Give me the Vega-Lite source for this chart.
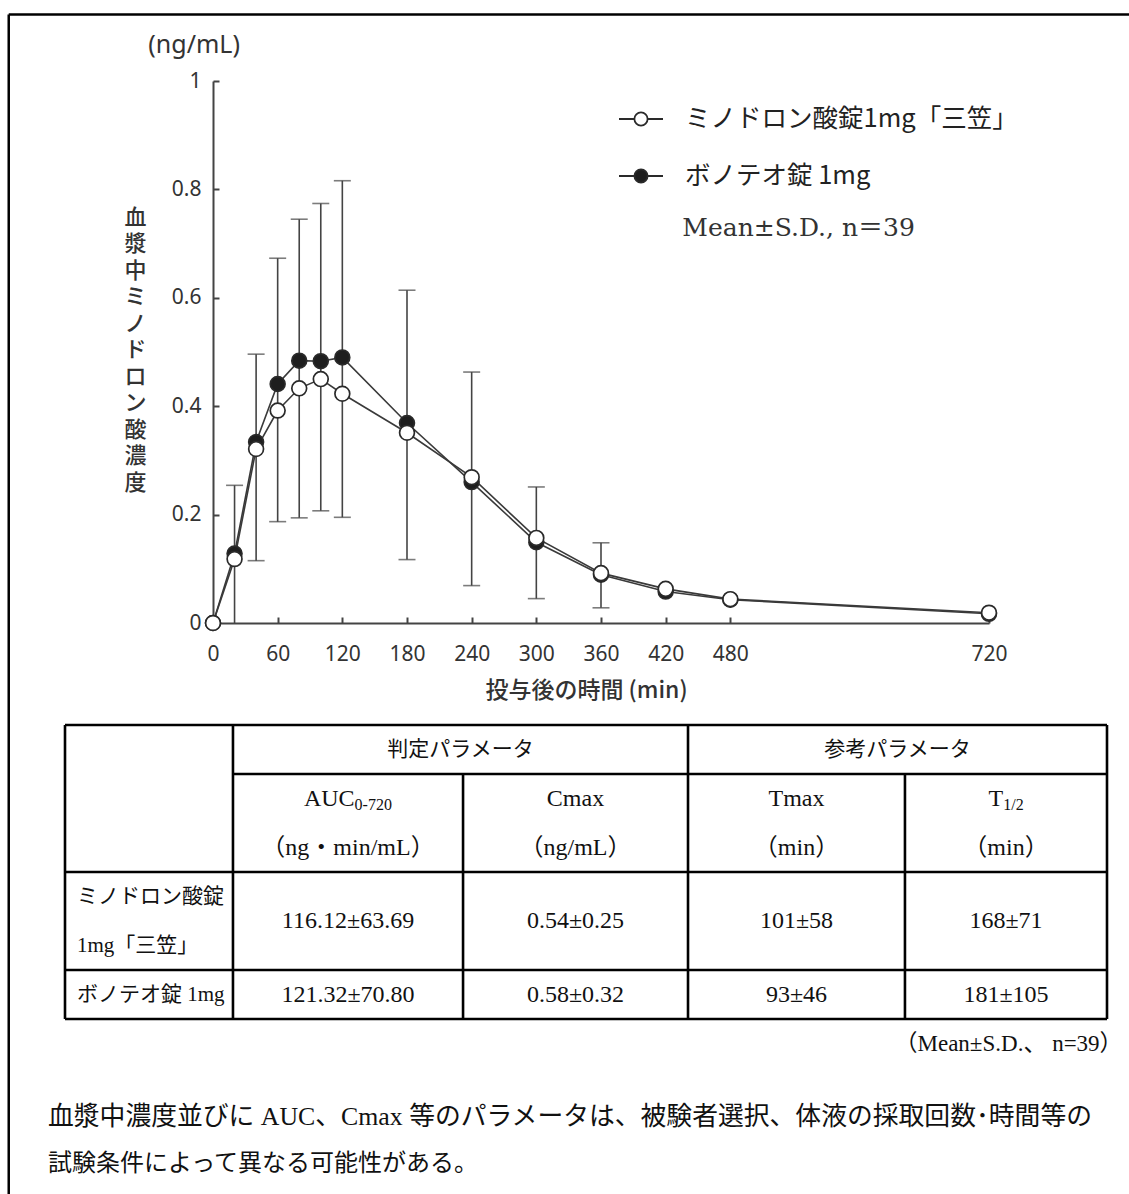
{
  "$schema": "https://vega.github.io/schema/vega-lite/v6.json",
  "width": 1129,
  "height": 1194,
  "autosize": {"type": "none"},
  "padding": 0,
  "background": "white",
  "config": {"view": {"stroke": null}},
  "datasets": {
    "curve": [
      {"time": 0, "drug": "ボノテオ錠 1mg", "conc": 0},
      {"time": 20, "drug": "ボノテオ錠 1mg", "conc": 0.128},
      {"time": 40, "drug": "ボノテオ錠 1mg", "conc": 0.334},
      {"time": 60, "drug": "ボノテオ錠 1mg", "conc": 0.441},
      {"time": 80, "drug": "ボノテオ錠 1mg", "conc": 0.484},
      {"time": 100, "drug": "ボノテオ錠 1mg", "conc": 0.483},
      {"time": 120, "drug": "ボノテオ錠 1mg", "conc": 0.49},
      {"time": 180, "drug": "ボノテオ錠 1mg", "conc": 0.369},
      {"time": 240, "drug": "ボノテオ錠 1mg", "conc": 0.26},
      {"time": 300, "drug": "ボノテオ錠 1mg", "conc": 0.149},
      {"time": 360, "drug": "ボノテオ錠 1mg", "conc": 0.089},
      {"time": 420, "drug": "ボノテオ錠 1mg", "conc": 0.058},
      {"time": 480, "drug": "ボノテオ錠 1mg", "conc": 0.043},
      {"time": 720, "drug": "ボノテオ錠 1mg", "conc": 0.017},
      {"time": 0, "drug": "ミノドロン酸錠1mg「三笠」", "conc": 0},
      {"time": 20, "drug": "ミノドロン酸錠1mg「三笠」", "conc": 0.118},
      {"time": 40, "drug": "ミノドロン酸錠1mg「三笠」", "conc": 0.321},
      {"time": 60, "drug": "ミノドロン酸錠1mg「三笠」", "conc": 0.392},
      {"time": 80, "drug": "ミノドロン酸錠1mg「三笠」", "conc": 0.433},
      {"time": 100, "drug": "ミノドロン酸錠1mg「三笠」", "conc": 0.45},
      {"time": 120, "drug": "ミノドロン酸錠1mg「三笠」", "conc": 0.423},
      {"time": 180, "drug": "ミノドロン酸錠1mg「三笠」", "conc": 0.351},
      {"time": 240, "drug": "ミノドロン酸錠1mg「三笠」", "conc": 0.269},
      {"time": 300, "drug": "ミノドロン酸錠1mg「三笠」", "conc": 0.157},
      {"time": 360, "drug": "ミノドロン酸錠1mg「三笠」", "conc": 0.092},
      {"time": 420, "drug": "ミノドロン酸錠1mg「三笠」", "conc": 0.063},
      {"time": 480, "drug": "ミノドロン酸錠1mg「三笠」", "conc": 0.044},
      {"time": 720, "drug": "ミノドロン酸錠1mg「三笠」", "conc": 0.019}
    ],
    "sd": [
      {"time": 20, "lo": 0, "hi": 0.254, "loCap": null},
      {"time": 40, "lo": 0.115, "hi": 0.496, "loCap": 0.115},
      {"time": 60, "lo": 0.187, "hi": 0.673, "loCap": 0.187},
      {"time": 80, "lo": 0.194, "hi": 0.745, "loCap": 0.194},
      {"time": 100, "lo": 0.207, "hi": 0.774, "loCap": 0.207},
      {"time": 120, "lo": 0.195, "hi": 0.816, "loCap": 0.195},
      {"time": 180, "lo": 0.117, "hi": 0.614, "loCap": 0.117},
      {"time": 240, "lo": 0.069, "hi": 0.463, "loCap": 0.069},
      {"time": 300, "lo": 0.045, "hi": 0.251, "loCap": 0.045},
      {"time": 360, "lo": 0.028, "hi": 0.148, "loCap": 0.028}
    ],
    "lines": [
      {"x1": 0, "x2": 100, "y1": 0, "y2": 0},
      {"x1": 16.12, "x2": 100, "y1": 1, "y2": 1},
      {"x1": 0, "x2": 100, "y1": 3, "y2": 3},
      {"x1": 0, "x2": 100, "y1": 5, "y2": 5},
      {"x1": 0, "x2": 100, "y1": 6, "y2": 6},
      {"x1": 0, "x2": 0, "y1": 0, "y2": 6},
      {"x1": 16.12, "x2": 16.12, "y1": 0, "y2": 6},
      {"x1": 38.2, "x2": 38.2, "y1": 1, "y2": 6},
      {"x1": 59.79, "x2": 59.79, "y1": 0, "y2": 6},
      {"x1": 80.61, "x2": 80.61, "y1": 1, "y2": 6},
      {"x1": 100, "x2": 100, "y1": 0, "y2": 6}
    ],
    "frame": [
      {"x1": -5.4, "x2": 110, "y1": -14.5, "y2": -14.5},
      {"x1": -5.4, "x2": -5.4, "y1": -14.5, "y2": 12}
    ],
    "groupHeads": [
      {"x": 37.96, "y": 0.5, "text": "判定パラメータ"},
      {"x": 79.89, "y": 0.5, "text": "参考パラメータ"}
    ],
    "centered": [
      {"x": 48.99, "y": 1.5, "text": "Cmax"},
      {"x": 70.2, "y": 1.5, "text": "Tmax"},
      {"x": 27.16, "y": 2.5, "text": "（ng・min/mL）"},
      {"x": 48.99, "y": 2.5, "text": "（ng/mL）"},
      {"x": 70.2, "y": 2.5, "text": "（min）"},
      {"x": 90.31, "y": 2.5, "text": "（min）"},
      {"x": 27.16, "y": 4, "text": "116.12±63.69"},
      {"x": 48.99, "y": 4, "text": "0.54±0.25"},
      {"x": 70.2, "y": 4, "text": "101±58"},
      {"x": 90.31, "y": 4, "text": "168±71"},
      {"x": 27.16, "y": 5.5, "text": "121.32±70.80"},
      {"x": 48.99, "y": 5.5, "text": "0.58±0.32"},
      {"x": 70.2, "y": 5.5, "text": "93±46"},
      {"x": 90.31, "y": 5.5, "text": "181±105"}
    ],
    "mainSym": [
      {"x": 27.79, "y": 1.5, "text": "AUC"},
      {"x": 90.04, "y": 1.5, "text": "T"}
    ],
    "subSym": [
      {"x": 27.79, "y": 1.5, "text": "0-720"},
      {"x": 90.04, "y": 1.5, "text": "1/2"}
    ],
    "rowLabels": [
      {"x": 1.15, "y": 3.5, "text": "ミノドロン酸錠"},
      {"x": 1.15, "y": 4.5, "text": "1mg「三笠」"},
      {"x": 1.15, "y": 5.5, "text": "ボノテオ錠 1mg"}
    ],
    "footer": [
      {"x": 101.5, "y": 6.5, "text": "（Mean±S.D.、 n=39）"}
    ],
    "note1": [
      {"x": -1.63, "y": 8.0, "text": "血漿中濃度並びに AUC、Cmax 等のパラメータは、被験者選択、体液の採取回数･時間等の"}
    ],
    "note2": [
      {"x": -1.63, "y": 8.95, "text": "試験条件によって異なる可能性がある。"}
    ]
  },
  "layer": [
    {
      "layer": [
        {
          "data": {"name": "sd"},
          "mark": {"type": "rule", "color": "#444", "strokeWidth": 1.6},
          "encoding": {
            "x": {"field": "time", "type": "quantitative",
              "scale": {"domain": [0, 720], "range": [213, 989], "nice": false, "zero": false},
              "axis": {
                "values": [0, 60, 120, 180, 240, 300, 360, 420, 480, 720],
                "offset": -571, "tickSize": -6, "tickWidth": 2, "tickColor": "#444",
                "domainColor": "#444", "domainWidth": 2, "grid": false,
                "labelFont": "Noto Sans", "labelFontSize": 21, "labelColor": "#333", "labelPadding": 26,
                "labelFlush": false, "labelOverlap": false,
                "title": "投与後の時間 (min)", "titleFont": "Noto Sans CJK JP", "titleFontSize": 23,
                "titleFontWeight": 500, "titleColor": "#333", "titleX": 586, "titleY": 67,
                "titleBaseline": "middle", "titleAlign": "center", "titleAngle": 0
              }},
            "y": {"field": "lo", "type": "quantitative",
              "scale": {"domain": [0, 1], "range": [623, 81], "nice": false, "zero": false},
              "axis": {
                "values": [0, 0.2, 0.4, 0.6, 0.8, 1], "format": "~g",
                "offset": -213, "tickSize": -6, "tickWidth": 2, "tickColor": "#444",
                "domainColor": "#444", "domainWidth": 2, "grid": false,
                "labelFont": "Noto Sans", "labelFontSize": 21, "labelColor": "#333", "labelPadding": 18,
                "labelFlush": false, "labelOverlap": false,
                "title": ["血", "漿", "中", "ミ", "ノ", "ド", "ロ", "ン", "酸", "濃", "度"],
                "titleFont": "Noto Sans CJK JP", "titleFontSize": 22, "titleFontWeight": 500,
                "titleColor": "#333", "titleAngle": 0, "titleX": -78, "titleY": 207,
                "titleBaseline": "top", "titleAlign": "center", "titleLineHeight": 26.5
              }},
            "y2": {"field": "hi"}
          }
        },
        {
          "data": {"name": "sd"},
          "mark": {"type": "tick", "orient": "horizontal", "color": "#444", "thickness": 1.6, "size": 17},
          "encoding": {
            "x": {"field": "time", "type": "quantitative", "scale": {"domain": [0, 720], "range": [213, 989], "nice": false, "zero": false}},
            "y": {"field": "hi", "type": "quantitative", "scale": {"domain": [0, 1], "range": [623, 81], "nice": false, "zero": false}}
          }
        },
        {
          "data": {"name": "sd"},
          "mark": {"type": "tick", "orient": "horizontal", "color": "#444", "thickness": 1.6, "size": 17},
          "encoding": {
            "x": {"field": "time", "type": "quantitative", "scale": {"domain": [0, 720], "range": [213, 989], "nice": false, "zero": false}},
            "y": {"field": "loCap", "type": "quantitative", "scale": {"domain": [0, 1], "range": [623, 81], "nice": false, "zero": false}}
          }
        },
        {
          "data": {"name": "curve"},
          "mark": {"type": "line", "color": "#3a3a3a", "strokeWidth": 1.6},
          "encoding": {
            "x": {"field": "time", "type": "quantitative", "scale": {"domain": [0, 720], "range": [213, 989], "nice": false, "zero": false}},
            "y": {"field": "conc", "type": "quantitative", "scale": {"domain": [0, 1], "range": [623, 81], "nice": false, "zero": false}},
            "detail": {"field": "drug"}
          }
        },
        {
          "data": {"name": "curve"},
          "mark": {"type": "point", "shape": "circle", "filled": true, "stroke": "#2a2a2a", "strokeWidth": 1.7, "size": 220, "opacity": 1},
          "encoding": {
            "x": {"field": "time", "type": "quantitative", "scale": {"domain": [0, 720], "range": [213, 989], "nice": false, "zero": false}},
            "y": {"field": "conc", "type": "quantitative", "scale": {"domain": [0, 1], "range": [623, 81], "nice": false, "zero": false}},
            "fill": {"field": "drug", "type": "nominal",
              "scale": {"domain": ["ミノドロン酸錠1mg「三笠」", "ボノテオ錠 1mg"], "range": ["#ffffff", "#1e1e1e"]},
              "legend": {
                "orient": "none", "legendX": 618, "legendY": 96, "title": null, "padding": 0,
                "symbolType": "M-1,0L-0.3,0M0.3,0L1,0M-0.3,0A0.3,0.3,0,1,1,0.3,0A0.3,0.3,0,1,1,-0.3,0Z",
                "symbolSize": 1936, "symbolStrokeColor": "#2a2a2a", "symbolStrokeWidth": 1.8, "symbolOpacity": 1,
                "labelFont": "Noto Sans CJK JP", "labelFontSize": 25.5, "labelColor": "#222",
                "labelOffset": 21, "rowPadding": 20, "labelLimit": 500
              }}
          }
        },
        {
          "data": {"values": [{"time": -60, "conc": 1.066, "label": "(ng/mL)"}]},
          "mark": {"type": "text", "align": "left", "baseline": "middle", "font": "Noto Sans", "fontSize": 25, "color": "#333"},
          "encoding": {
            "x": {"field": "time", "type": "quantitative", "scale": {"domain": [0, 720], "range": [213, 989], "nice": false, "zero": false}},
            "y": {"field": "conc", "type": "quantitative", "scale": {"domain": [0, 1], "range": [623, 81], "nice": false, "zero": false}},
            "text": {"field": "label"}
          }
        },
        {
          "data": {"values": [{"time": 435.5, "conc": 0.729, "label": "Mean±S.D.,  n＝39"}]},
          "mark": {"type": "text", "align": "left", "baseline": "middle", "font": "DejaVu Serif, Noto Sans CJK JP", "fontSize": 25, "color": "#333"},
          "encoding": {
            "x": {"field": "time", "type": "quantitative", "scale": {"domain": [0, 720], "range": [213, 989], "nice": false, "zero": false}},
            "y": {"field": "conc", "type": "quantitative", "scale": {"domain": [0, 1], "range": [623, 81], "nice": false, "zero": false}},
            "text": {"field": "label"}
          }
        }
      ]
    },
    {
      "layer": [
        {
          "data": {"name": "lines"},
          "mark": {"type": "rule", "color": "#000", "strokeWidth": 2.6},
          "encoding": {
            "x": {"field": "x1", "type": "quantitative", "scale": {"domain": [0, 100], "range": [65, 1107], "nice": false, "zero": false}, "axis": null},
            "x2": {"field": "x2"},
            "y": {"field": "y1", "type": "quantitative", "scale": {"domain": [0, 6], "range": [725, 1019], "nice": false, "zero": false}, "axis": null},
            "y2": {"field": "y2"}
          }
        },
        {
          "data": {"name": "frame"},
          "mark": {"type": "rule", "color": "#000", "strokeWidth": 2.5},
          "encoding": {
            "x": {"field": "x1", "type": "quantitative", "scale": {"domain": [0, 100], "range": [65, 1107], "nice": false, "zero": false}, "axis": null},
            "x2": {"field": "x2"},
            "y": {"field": "y1", "type": "quantitative", "scale": {"domain": [0, 6], "range": [725, 1019], "nice": false, "zero": false}, "axis": null},
            "y2": {"field": "y2"}
          }
        },
        {
          "data": {"name": "groupHeads"},
          "mark": {"type": "text", "align": "center", "baseline": "middle", "font": "Noto Sans CJK JP", "fontSize": 21, "color": "#111"},
          "encoding": {
            "x": {"field": "x", "type": "quantitative", "scale": {"domain": [0, 100], "range": [65, 1107], "nice": false, "zero": false}, "axis": null},
            "y": {"field": "y", "type": "quantitative", "scale": {"domain": [0, 6], "range": [725, 1019], "nice": false, "zero": false}, "axis": null},
            "text": {"field": "text"}
          }
        },
        {
          "data": {"name": "centered"},
          "mark": {"type": "text", "align": "center", "baseline": "middle", "font": "Liberation Serif, Noto Sans CJK JP", "fontSize": 24, "color": "#111"},
          "encoding": {
            "x": {"field": "x", "type": "quantitative", "scale": {"domain": [0, 100], "range": [65, 1107], "nice": false, "zero": false}, "axis": null},
            "y": {"field": "y", "type": "quantitative", "scale": {"domain": [0, 6], "range": [725, 1019], "nice": false, "zero": false}, "axis": null},
            "text": {"field": "text"}
          }
        },
        {
          "data": {"name": "mainSym"},
          "mark": {"type": "text", "align": "right", "baseline": "middle", "font": "Liberation Serif", "fontSize": 24, "color": "#111"},
          "encoding": {
            "x": {"field": "x", "type": "quantitative", "scale": {"domain": [0, 100], "range": [65, 1107], "nice": false, "zero": false}, "axis": null},
            "y": {"field": "y", "type": "quantitative", "scale": {"domain": [0, 6], "range": [725, 1019], "nice": false, "zero": false}, "axis": null},
            "text": {"field": "text"}
          }
        },
        {
          "data": {"name": "subSym"},
          "mark": {"type": "text", "align": "left", "baseline": "middle", "dy": 6, "font": "Liberation Serif", "fontSize": 16, "color": "#111"},
          "encoding": {
            "x": {"field": "x", "type": "quantitative", "scale": {"domain": [0, 100], "range": [65, 1107], "nice": false, "zero": false}, "axis": null},
            "y": {"field": "y", "type": "quantitative", "scale": {"domain": [0, 6], "range": [725, 1019], "nice": false, "zero": false}, "axis": null},
            "text": {"field": "text"}
          }
        },
        {
          "data": {"name": "rowLabels"},
          "mark": {"type": "text", "align": "left", "baseline": "middle", "font": "Liberation Serif, Noto Sans CJK JP", "fontSize": 21, "color": "#111"},
          "encoding": {
            "x": {"field": "x", "type": "quantitative", "scale": {"domain": [0, 100], "range": [65, 1107], "nice": false, "zero": false}, "axis": null},
            "y": {"field": "y", "type": "quantitative", "scale": {"domain": [0, 6], "range": [725, 1019], "nice": false, "zero": false}, "axis": null},
            "text": {"field": "text"}
          }
        },
        {
          "data": {"name": "footer"},
          "mark": {"type": "text", "align": "right", "baseline": "middle", "font": "Liberation Serif, Noto Sans CJK JP", "fontSize": 23, "color": "#111"},
          "encoding": {
            "x": {"field": "x", "type": "quantitative", "scale": {"domain": [0, 100], "range": [65, 1107], "nice": false, "zero": false}, "axis": null},
            "y": {"field": "y", "type": "quantitative", "scale": {"domain": [0, 6], "range": [725, 1019], "nice": false, "zero": false}, "axis": null},
            "text": {"field": "text"}
          }
        },
        {
          "data": {"name": "note1"},
          "mark": {"type": "text", "align": "left", "baseline": "middle", "font": "Liberation Serif, Noto Sans CJK JP", "fontSize": 25.8, "color": "#111"},
          "encoding": {
            "x": {"field": "x", "type": "quantitative", "scale": {"domain": [0, 100], "range": [65, 1107], "nice": false, "zero": false}, "axis": null},
            "y": {"field": "y", "type": "quantitative", "scale": {"domain": [0, 6], "range": [725, 1019], "nice": false, "zero": false}, "axis": null},
            "text": {"field": "text"}
          }
        },
        {
          "data": {"name": "note2"},
          "mark": {"type": "text", "align": "left", "baseline": "middle", "font": "Liberation Serif, Noto Sans CJK JP", "fontSize": 24, "color": "#111"},
          "encoding": {
            "x": {"field": "x", "type": "quantitative", "scale": {"domain": [0, 100], "range": [65, 1107], "nice": false, "zero": false}, "axis": null},
            "y": {"field": "y", "type": "quantitative", "scale": {"domain": [0, 6], "range": [725, 1019], "nice": false, "zero": false}, "axis": null},
            "text": {"field": "text"}
          }
        }
      ]
    }
  ],
  "resolve": {
    "scale": {"x": "independent", "y": "independent"},
    "axis": {"x": "independent", "y": "independent"}
  }
}
